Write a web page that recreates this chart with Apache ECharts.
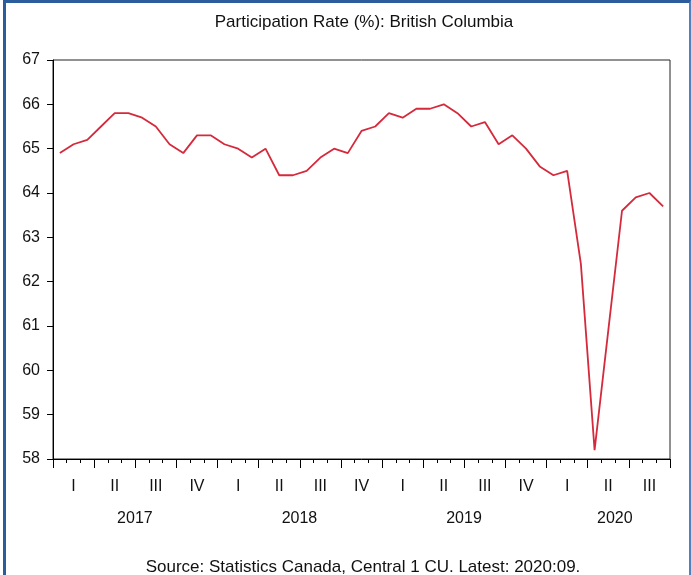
<!DOCTYPE html>
<html>
<head>
<meta charset="utf-8">
<script src="https://cdn.jsdelivr.net/npm/echarts@6/dist/echarts.min.js"></script>
<style>
  body { margin: 0; background: #fff; }
  #wrap { position: relative; width: 691px; height: 575px; }
  #chart { width: 691px; height: 575px; }
  #frame {
    position: absolute; left: 3px; top: 0; right: 0; bottom: -10px;
    border-left: 3px solid #2b5c9b; border-top: 3px solid #2b5c9b; border-right: 2px solid #4f80bf;
    pointer-events: none;
  }
</style>
</head>
<body>
<div id="wrap">
  <div id="chart"></div>
  <div id="frame"></div>
</div>
<script>
  // monthly participation rate, Jan 2017 .. Sep 2020
  var months = []
  var years = [2017, 2018, 2019, 2020]
  years.forEach(function (y) {
    for (var m = 1; m <= 12; m++) {
      if (y === 2020 && m > 9) break
      months.push(y + ':' + (m < 10 ? '0' + m : m))
    }
  })

  var rate2017 = [64.9, 65.1, 65.2, 65.5, 65.8, 65.8, 65.7, 65.5, 65.1, 64.9, 65.3, 65.3]
  var rate2018 = [65.1, 65.0, 64.8, 65.0, 64.4, 64.4, 64.5, 64.8, 65.0, 64.9, 65.4, 65.5]
  var rate2019 = [65.8, 65.7, 65.9, 65.9, 66.0, 65.8, 65.5, 65.6, 65.1, 65.3, 65.0, 64.6]
  var rate2020 = [64.4, 64.5, 62.4, 58.2, 60.9, 63.6, 63.9, 64.0, 63.7]
  var rates = rate2017.concat(rate2018, rate2019, rate2020)

  var quarterNames = ['I', 'II', 'III', 'IV']
  // month index where each year label sits
  var yearLabelAt = { 5: '2017', 17: '2018', 29: '2019', 40: '2020' }

  var chart = echarts.init(document.getElementById('chart'))
  chart.setOption({
    animation: false,
    backgroundColor: '#fff',
    textStyle: { fontFamily: 'Liberation Sans, Arial, sans-serif' },
    title: [{
      text: 'Participation Rate (%): British Columbia',
      left: 359,
      top: 9,
      textAlign: 'center',
      textStyle: { fontSize: 17, fontWeight: 'normal', color: '#111' }
    }, {
      text: 'Source: Statistics Canada, Central 1 CU. Latest: 2020:09.',
      left: 358,
      top: 554,
      textAlign: 'center',
      textStyle: { fontSize: 17, fontWeight: 'normal', color: '#111' }
    }],
    grid: {
      left: 53,
      top: 60,
      width: 617,
      height: 399,
      show: true,
      borderColor: '#222',
      borderWidth: 1
    },
    xAxis: [{
      type: 'category',
      data: months,
      boundaryGap: true,
      axisLine: { show: true, lineStyle: { color: '#000', width: 1 } },
      axisTick: { show: true, inside: false, interval: 0, length: 4, lineStyle: { color: '#000', width: 1 } },
      axisLabel: {
        interval: 0,
        margin: 20,
        fontSize: 16,
        color: '#111',
        formatter: function (v, i) {
          return i % 3 === 1 ? quarterNames[Math.floor(i / 3) % 4] : ''
        }
      },
      splitLine: { show: false }
    }, {
      type: 'category',
      data: months,
      position: 'bottom',
      boundaryGap: true,
      axisLine: { show: false },
      axisTick: {
        show: true,
        inside: false,
        length: 9,
        interval: function (i) { return i % 3 === 0 },
        lineStyle: { color: '#000', width: 1 }
      },
      axisLabel: {
        interval: 0,
        margin: 52,
        fontSize: 16,
        color: '#111',
        padding: [0, 0, 0, 13],
        formatter: function (v, i) {
          return yearLabelAt[i] || ''
        }
      },
      splitLine: { show: false }
    }],
    yAxis: {
      type: 'value',
      min: 58,
      max: 67,
      interval: 1,
      axisLine: { show: true, lineStyle: { color: '#000' } },
      axisTick: { show: true, inside: false, length: 6, lineStyle: { color: '#000', width: 1 } },
      axisLabel: { fontSize: 16, color: '#111', margin: 13 },
      splitLine: { show: false }
    },
    series: [{
      type: 'line',
      data: rates,
      xAxisIndex: 0,
      symbol: 'none',
      lineStyle: { color: '#d42a3c', width: 1.8 }
    }]
  })
</script>
</body>
</html>
